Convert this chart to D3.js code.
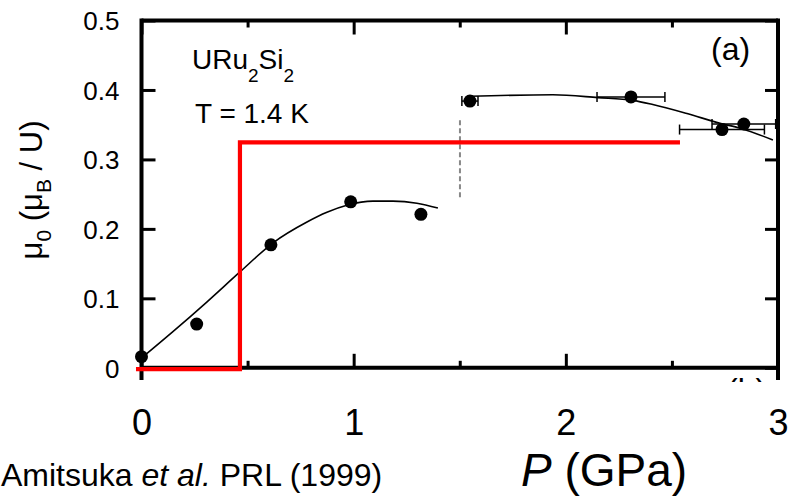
<!DOCTYPE html>
<html>
<head>
<meta charset="utf-8">
<script src="https://d3js.org/d3.v7.min.js"></script>
<style>
  body { margin: 0; background: #fff; }
  svg text { font-family: "Liberation Sans", Arial, sans-serif; fill: #000; }
</style>
</head>
<body>
<div id="chart"></div>
<script>
// measured points
const pData   = [0, 0.26, 0.61, 0.986, 1.317, 1.548, 2.307, 2.736, 2.839];
const muData  = [0.016, 0.063, 0.177, 0.239, 0.221, 0.384, 0.390, 0.343, 0.351];
const pErr    = [0, 0, 0, 0, 0, 0.038, 0.16, 0.2, 0.15];

// guide-to-the-eye curves
const fit1P  = [0, 0.148, 0.309, 0.464, 0.620, 0.780, 0.874, 0.968, 1.091, 1.185, 1.298, 1.397];
const fit1Mu = [0.014, 0.052, 0.095, 0.138, 0.180, 0.210, 0.224, 0.234, 0.240, 0.240, 0.237, 0.230];
const fit2P  = [1.548, 1.939, 2.151, 2.316, 2.41, 2.571, 2.727, 2.821, 2.976];
const fit2Mu = [0.391, 0.393, 0.389, 0.385, 0.379, 0.366, 0.352, 0.345, 0.328];

// red step
const stepP  = [-0.026, 0.464, 0.464, 2.538];
const stepMu = [-0.002, -0.002, 0.3245, 0.3245];

// dashed boundary
const dashP  = [1.501, 1.501];
const dashMu = [0.3565, 0.2414];

const xMajor = [0, 1, 2, 3];
const xMinor = [0.5, 1.5, 2.5];
const yTicks = [0, 0.1, 0.2, 0.3, 0.4, 0.5];

const w = 794, h = 496;
const padL = 141.5, padR = 778, padT = 20.5, padB = 367.8;

const svg = d3.select("#chart").append("svg")
  .attr("width", w).attr("height", h);

const x = d3.scaleLinear().domain([0, 3]).range([padL, padR]);
const y = d3.scaleLinear().domain([0, 0.5]).range([padB, padT]);

// ticks
function styleAxis(g) {
  g.select(".domain").remove();
  g.selectAll("line").attr("stroke", "#000").attr("stroke-width", 3);
}

svg.append("g").attr("transform", "translate(0," + padB + ")")
  .call(d3.axisBottom(x).tickValues(xMajor).tickSize(-14).tickFormat(d3.format("d")))
  .call(styleAxis)
  .call(g => g.selectAll("text").attr("y", 67).attr("dy", 0)
      .style("font-size", "36px").style("font-family", "Liberation Sans, Arial, sans-serif"));

svg.append("g").attr("transform", "translate(0," + padB + ")")
  .call(d3.axisBottom(x).tickValues(xMinor).tickSize(-7).tickFormat(""))
  .call(styleAxis);

svg.append("g").attr("transform", "translate(0," + padT + ")")
  .call(d3.axisTop(x).tickValues(xMajor).tickSize(-14).tickFormat(""))
  .call(styleAxis);

svg.append("g").attr("transform", "translate(0," + padT + ")")
  .call(d3.axisTop(x).tickValues(xMinor).tickSize(-7).tickFormat(""))
  .call(styleAxis);

svg.append("g").attr("transform", "translate(" + padL + ",0)")
  .call(d3.axisLeft(y).tickValues(yTicks).tickSize(-14).tickPadding(22)
    .tickFormat(d => d === 0 ? "0" : d3.format(".1f")(d)))
  .call(styleAxis)
  .call(g => g.selectAll("text").attr("dy", "0.36em")
      .style("font-size", "26px").style("font-family", "Liberation Sans, Arial, sans-serif"));

svg.append("g").attr("transform", "translate(" + padR + ",0)")
  .call(d3.axisRight(y).tickValues(yTicks).tickSize(-13).tickFormat(""))
  .call(styleAxis);

// frame
const frame = svg.append("g").attr("stroke", "#000").attr("stroke-width", 4);
frame.append("line").attr("x1", padL).attr("x2", padL).attr("y1", padT - 2).attr("y2", 380);
frame.append("line").attr("x1", padR).attr("x2", padR).attr("y1", padT - 2).attr("y2", 380);
frame.append("line").attr("x1", padL).attr("x2", padR).attr("y1", padT).attr("y2", padT);
frame.append("line").attr("x1", padL).attr("x2", padR).attr("y1", padB).attr("y2", padB);

// lines
const line = d3.line().x(d => x(d[0])).y(d => y(d[1]));

svg.append("path")
  .datum(fit1P.map((p, i) => [p, fit1Mu[i]]))
  .attr("d", line.curve(d3.curveMonotoneX))
  .attr("fill", "none").attr("stroke", "#000").attr("stroke-width", 1.6);

svg.append("path")
  .datum(fit2P.map((p, i) => [p, fit2Mu[i]]))
  .attr("d", line.curve(d3.curveMonotoneX))
  .attr("fill", "none").attr("stroke", "#000").attr("stroke-width", 1.6);

svg.append("path")
  .datum(dashP.map((p, i) => [p, dashMu[i]]))
  .attr("d", line.curve(d3.curveLinear))
  .attr("fill", "none").attr("stroke", "#888").attr("stroke-width", 2)
  .attr("stroke-dasharray", "5,3");

svg.append("path")
  .datum(stepP.map((p, i) => [p, stepMu[i]]))
  .attr("d", line.curve(d3.curveLinear))
  .attr("fill", "none").attr("stroke", "#ff0000").attr("stroke-width", 4.2);

// error bars
const pts = pData.map((p, i) => ({ p: p, mu: muData[i], e: pErr[i] }));
const eb = svg.append("g").attr("stroke", "#000").attr("stroke-width", 1.5);
pts.filter(d => d.e > 0).forEach(d => {
  const yy = y(d.mu), x0 = x(d.p - d.e), x1 = x(d.p + d.e);
  eb.append("line").attr("x1", x0).attr("x2", x1).attr("y1", yy).attr("y2", yy);
  eb.append("line").attr("x1", x0).attr("x2", x0).attr("y1", yy - 5).attr("y2", yy + 5);
  eb.append("line").attr("x1", x1).attr("x2", x1).attr("y1", yy - 5).attr("y2", yy + 5);
});

svg.append("g").selectAll("circle")
  .data(pts)
  .enter()
  .append("circle")
  .attr("cx", d => x(d.p))
  .attr("cy", d => y(d.mu))
  .attr("r", 6.5)
  .attr("fill", "#000");

// labels
const comp = svg.append("text").attr("x", 192).attr("y", 69).style("font-size", "28px");
comp.append("tspan").text("URu");
comp.append("tspan").attr("dy", 13).style("font-size", "19px").text("2");
comp.append("tspan").attr("dy", -13).text("Si");
comp.append("tspan").attr("dy", 13).style("font-size", "19px").text("2");

svg.append("text").attr("x", 195).attr("y", 123).style("font-size", "28px").text("T = 1.4 K");
svg.append("text").attr("x", 711).attr("y", 60).style("font-size", "32px").text("(a)");

// fragment of the next panel's label
svg.append("clipPath").attr("id", "clipb")
  .append("rect").attr("x", 700).attr("y", 375).attr("width", 90).attr("height", 7);
svg.append("text").attr("x", 727).attr("y", 401).style("font-size", "32px")
  .attr("clip-path", "url(#clipb)").text("(b)");

// y title
const yt = svg.append("text")
  .attr("transform", "translate(42,190) rotate(-90)")
  .attr("text-anchor", "middle")
  .style("font-size", "31px");
yt.append("tspan").text("μ");
yt.append("tspan").attr("dy", 9).style("font-size", "21px").text("0");
yt.append("tspan").attr("dy", -9).text(" (μ");
yt.append("tspan").attr("dy", 9).style("font-size", "21px").text("B");
yt.append("tspan").attr("dy", -9).text(" / U)");

// x title
const xt = svg.append("text").attr("x", 521).attr("y", 486).style("font-size", "46px");
xt.append("tspan").style("font-style", "italic").text("P");
xt.append("tspan").text(" (GPa)");

// citation
const cite = svg.append("text").attr("x", 1).attr("y", 486).style("font-size", "32px");
cite.append("tspan").text("Amitsuka ");
cite.append("tspan").style("font-style", "italic").text("et al.");
cite.append("tspan").text(" PRL (1999)");
</script>
</body>
</html>
